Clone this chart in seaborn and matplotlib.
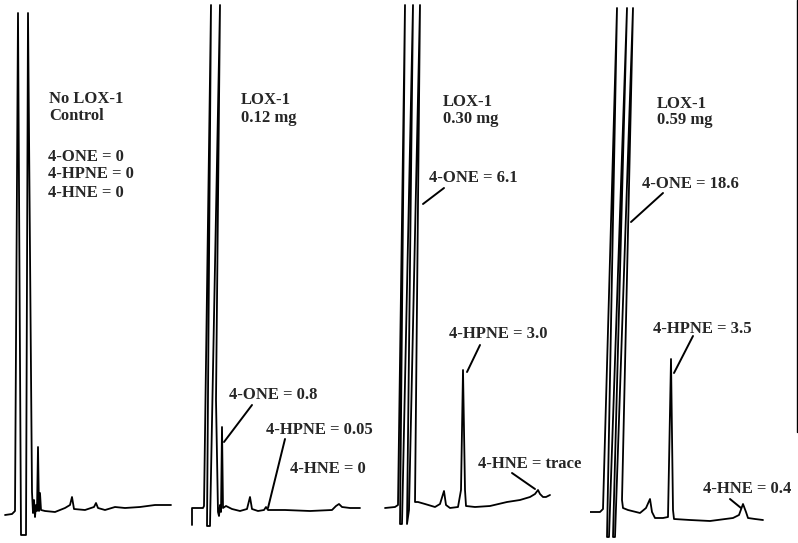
import matplotlib

matplotlib.use("Agg")
import matplotlib.pyplot as plt
import seaborn as sns
from matplotlib.lines import Line2D

# chromatogram traces: time (arb. units from panel start) and detector signal
t_ctrl = [5, 12, 15, 18, 21, 26, 28, 32, 33, 34, 35, 36, 37, 38, 39, 40, 41, 45, 55, 65,
          70, 72, 74, 85, 94, 96, 98, 105, 115, 125, 140, 155, 171]
s_ctrl = [28, 29, 32, 530, 8, 8, 530, 51, 30, 43, 26, 38, 32, 96, 32, 50, 33, 32, 31, 35,
          38, 46, 34, 33, 36, 40, 35, 33, 36, 35, 36, 38, 38]

t_012 = [2, 2, 13, 14, 21, 17, 20, 30, 26, 28, 29, 30, 31, 32, 33, 36, 42, 50, 57, 60,
         62, 68, 74, 76, 78, 95, 120, 142, 146, 149, 152, 160, 170]
s_012 = [18, 35, 35, 37, 538, 17, 17, 538, 143, 31, 27, 38, 31, 116, 35, 37, 34, 32, 34, 46,
         34, 32, 33, 36, 33, 33, 32, 33, 37, 39, 36, 35, 35]

t_030 = [5, 15, 18, 25, 20, 22, 33, 27, 29, 40, 35, 38, 45, 55, 60, 64, 66, 70, 78, 81,
         83, 85, 86, 95, 110, 127, 140, 150, 155, 158, 160, 163, 166, 170]
s_030 = [35, 36, 38, 538, 19, 19, 538, 19, 33, 538, 41, 41, 39, 36, 39, 52, 38, 35, 36, 53,
         173, 53, 37, 36, 37, 41, 43, 46, 49, 53, 49, 46, 46, 48]

t_059 = [0, 10, 13, 27, 17, 19, 37, 23, 25, 43, 32, 33, 38, 50, 56, 60, 62, 65, 73, 78,
         81, 83, 84, 100, 120, 143, 149, 153, 156, 158, 165, 173]
s_059 = [31, 31, 34, 535, 6, 6, 535, 6, 6, 535, 43, 35, 33, 30, 35, 44, 31, 25, 25, 26,
         184, 33, 24, 23, 22, 25, 28, 39, 31, 25, 24, 23]

conditions = [["No LOX-1", "Control"], ["LOX-1", "0.12 mg"], ["LOX-1", "0.30 mg"], ["LOX-1", "0.59 mg"]]
ctrl_results = ["4-ONE = 0", "4-HPNE = 0", "4-HNE = 0"]

sns.set_theme(style="white")
plt.rcParams["font.family"] = ["Liberation Serif", "DejaVu Serif"]
plt.rcParams["font.weight"] = "bold"

W, H = 798, 543
fig = plt.figure(figsize=(W / 100, H / 100), dpi=100)
panel_left = [0, 190, 380, 590]
panel_w = 208

traces = [(t_ctrl, s_ctrl), (t_012, s_012), (t_030, s_030), (t_059, s_059)]
axes = []
for left, (t, s) in zip(panel_left, traces):
    ax = fig.add_axes([left / W, 0, panel_w / W, 1])
    sns.lineplot(x=t, y=s, sort=False, estimator=None, color="black", lw=1.3, ax=ax)
    ax.set_xlim(0, panel_w)
    ax.set_ylim(0, H)
    ax.axis("off")
    axes.append(ax)

fs = 12
head_pos = [(49, 440, 423), (51, 439, 421), (63, 437, 420), (67, 435, 419)]
for ax, lines, (x, y1, y2) in zip(axes, conditions, head_pos):
    ax.text(x, y1, lines[0], fontsize=fs, fontweight="bold", va="baseline")
    ax.text(x, y2, lines[1], fontsize=fs, fontweight="bold", va="baseline")

for label, y in zip(ctrl_results, [382, 365, 346]):
    axes[0].text(48, y, label, fontsize=fs, fontweight="bold", va="baseline")

# peak labels: panel, text, text pos, leader start, leader end
peak_labels = [
    (1, "4-ONE = 0.8", (39, 144), (62, 138), (34, 101)),
    (1, "4-HPNE = 0.05", (76, 109), (95, 104), (78, 35)),
    (1, "4-HNE = 0", (100, 70), None, None),
    (2, "4-ONE = 6.1", (49, 361), (64, 355), (43, 339)),
    (2, "4-HPNE = 3.0", (69, 205), (100, 198), (87, 171)),
    (2, "4-HNE = trace", (98, 75), (132, 70), (155, 54)),
    (3, "4-ONE = 18.6", (52, 355), (73, 350), (41, 321)),
    (3, "4-HPNE = 3.5", (63, 210), (103, 207), (84, 170)),
    (3, "4-HNE = 0.4", (113, 50), (140, 44), (151, 35)),
]
for i, txt, (tx, ty), p0, p1 in peak_labels:
    ax = axes[i]
    ax.text(tx, ty, txt, fontsize=fs, fontweight="bold", va="baseline", zorder=3)
    if p0 is not None:
        ax.plot([p0[0], p1[0]], [p0[1], p1[1]], color="black", lw=1.4)

fig.add_artist(Line2D([797 / W, 797 / W], [1, 1 - 432 / H], color="black", lw=1))

fig.savefig("out.png", dpi=100)
